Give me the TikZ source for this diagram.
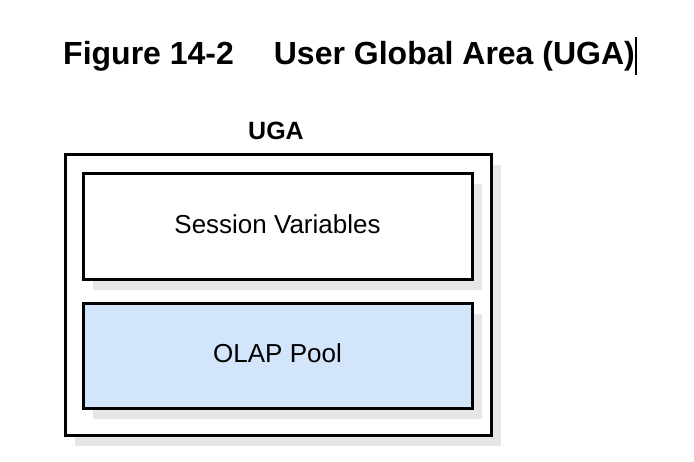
\documentclass[tikz,border=0pt]{standalone}
\usepackage{fontspec}
\setmainfont{Liberation Sans}
\usetikzlibrary{positioning,shadows}
\definecolor{poolblue}{HTML}{D3E5FB}
\definecolor{shadegray}{HTML}{E6E6E6}
\tikzset{
  area/.style={draw,line width=3pt,fill=white,
    drop shadow={shadow xshift=10pt,shadow yshift=-10pt,fill=shadegray,opacity=1}},
  part/.style={area,minimum width=389pt,minimum height=106pt,text depth=6pt,font=\fontsize{26}{30}\selectfont},
}
\begin{document}
\begin{tikzpicture}[x=1pt,y=-1pt]
\useasboundingbox (0,0) rectangle (694,462);
\node (title) [anchor=base west,inner sep=0pt,font=\bfseries\fontsize{32}{36}\selectfont] at (63,65)
  {Figure 14-2\hspace{40pt}User Global Area (UGA)};
\coordinate (cur1) at (636,37);
\coordinate (cur2) at (636,75);
\draw[line width=1.2pt] (cur1) -- (cur2);
\node (uga) [area,minimum width=426pt,minimum height=281pt] at (278,295.5) {};
\node (uganame) [anchor=base,inner sep=0pt,font=\bfseries\fontsize{25}{30}\selectfont] at (276,140) {UGA};
\node (session) [part] at (277.5,227) {Session Variables};
\node (olap) [part,fill=poolblue,minimum height=105pt] at (277.5,356.5) {OLAP Pool};
\end{tikzpicture}
\end{document}
